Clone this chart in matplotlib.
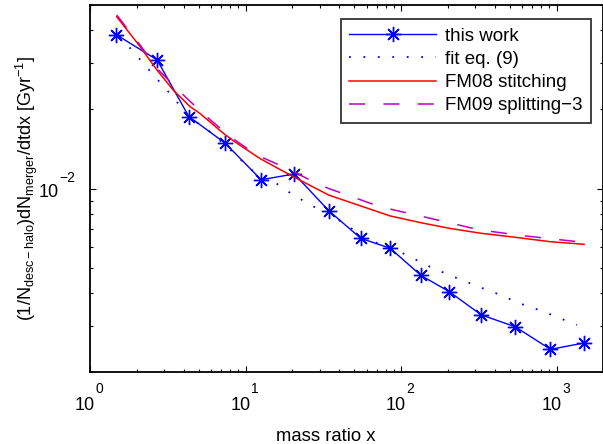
import matplotlib
matplotlib.use("Agg")
import matplotlib.pyplot as plt
import matplotlib.transforms as mtransforms
from matplotlib.ticker import LogLocator, NullFormatter
import numpy as np

plt.rcParams['font.family'] = ['Liberation Sans', 'DejaVu Sans']
plt.rcParams['mathtext.fontset'] = 'custom'
plt.rcParams['mathtext.rm'] = 'Liberation Sans'
plt.rcParams['mathtext.it'] = 'Liberation Sans:italic'
plt.rcParams['mathtext.bf'] = 'Liberation Sans:bold'

# ---- data ----
x_work = [1.48, 2.70, 4.32, 7.38, 12.6, 20.6, 34.3, 55.1, 85.2, 134, 205, 328, 542, 914, 1503]
y_work = [0.0385, 0.0309, 0.0188, 0.0149, 0.0108, 0.01136, 0.00823, 0.00646, 0.00592,
          0.00467, 0.00404, 0.0033, 0.002975, 0.00244, 0.00258]

x_fit = [1.56, 2.05, 2.55, 3.40, 4.3, 6.0, 8.0, 11.0, 14.7, 20, 28, 39.6, 62.3, 98.5,
         157, 222, 314, 408, 597, 823, 1349]
y_fit = [0.0379, 0.0315, 0.0271, 0.0224, 0.0188, 0.01633, 0.01402, 0.01174, 0.01077,
         0.00949, 0.00848, 0.00759, 0.00637, 0.00574, 0.0050, 0.00459, 0.00423, 0.00399,
         0.00363, 0.0034, 0.00302]

x_fm08 = [1.485, 2.10, 2.69, 3.43, 4.40, 5.10, 7.20, 8.35, 12.4, 20.3, 34.3, 55.1, 85.2,
          134, 205, 328, 542, 914, 1503]
y_fm08 = [0.0451, 0.0347, 0.0283, 0.0237, 0.0205, 0.0193, 0.01623, 0.0152, 0.0130,
          0.01109, 0.00944, 0.00858, 0.00786, 0.00741, 0.00705, 0.00675, 0.00652, 0.00627,
          0.00613]

x_fm09 = [1.485, 2.10, 2.69, 4.19, 5.63, 7.95, 11.8, 18.4, 30.1, 34.3, 73.3, 139, 322,
          612, 1480]
y_fm09 = [0.0458, 0.0352, 0.0287, 0.02206, 0.01877, 0.01575, 0.01342, 0.01194, 0.01031,
          0.0100, 0.00852, 0.00781, 0.00695, 0.00661, 0.00624]

labels = ['this work', 'fit eq. (9)', 'FM08 stitching', 'FM09 splitting\u22123']
x_major = [1, 10, 100, 1000]
y_major = [0.01]

fig = plt.figure(figsize=(6.03, 4.44), dpi=100)
W, H = 603, 444
ax_l, ax_r, ax_t, ax_b = 90, 603, 5, 372
ax = fig.add_axes([ax_l / W, (H - ax_b) / H, (ax_r - ax_l) / W, (ax_b - ax_t) / H])

ax.plot(x_work, y_work, color='#0000ff', lw=1.0, marker=(8, 2, 0), ms=11, mew=1.0,
        label=labels[0])
ax.plot(x_fit, y_fit, color='#0000ff', lw=1.3, ls=(0, (1, 7)), label=labels[1])
ax.plot(x_fm08, y_fm08, color='#ff0000', lw=1.1, label=labels[2])
ax.plot(x_fm09, y_fm09, color='#c000c0', lw=1.1, ls=(0, (10.5, 12)), label=labels[3])

ax.set_xscale('log')
ax.set_yscale('log')
ax.set_xlim(1, 1990)
ax.set_ylim(0.002, 0.05)

ax.xaxis.set_major_locator(LogLocator(base=10, numticks=10))
ax.xaxis.set_major_formatter(NullFormatter())
ax.xaxis.set_minor_locator(LogLocator(base=10, subs=np.arange(2, 10), numticks=20))
ax.xaxis.set_minor_formatter(NullFormatter())
ax.yaxis.set_major_locator(LogLocator(base=10, numticks=10))
ax.yaxis.set_major_formatter(NullFormatter())
ax.yaxis.set_minor_locator(LogLocator(base=10, subs=np.arange(2, 10), numticks=20))
ax.yaxis.set_minor_formatter(NullFormatter())

ax.tick_params(which='both', direction='in', top=True, right=True, width=0.8)
ax.tick_params(which='major', length=4.5)
ax.tick_params(which='minor', length=2.5)
for s in ax.spines.values():
    s.set_linewidth(1.3)

# MATLAB-style power-of-ten tick labels: "10" plus a raised exponent
px = 72.0 / fig.dpi  # points per pixel
xtr = mtransforms.blended_transform_factory(ax.transData, ax.transAxes)
for v in x_major:
    e = int(round(np.log10(v)))
    t1 = mtransforms.offset_copy(xtr, fig=fig, x=5 * px, y=-38 * px, units='points')
    ax.text(v, 0, '10', transform=t1, ha='right', va='baseline', fontsize=13)
    t2 = mtransforms.offset_copy(xtr, fig=fig, x=5.5 * px, y=-21 * px, units='points')
    ax.text(v, 0, '%d' % e, transform=t2, ha='left', va='baseline', fontsize=10)
ytr = mtransforms.blended_transform_factory(ax.transAxes, ax.transData)
for v in y_major:
    e = int(round(np.log10(v)))
    t1 = mtransforms.offset_copy(ytr, fig=fig, x=-31 * px, y=-8.5 * px, units='points')
    ax.text(0, v, '10', transform=t1, ha='right', va='baseline', fontsize=13)
    t2 = mtransforms.offset_copy(ytr, fig=fig, x=-30.5 * px, y=6.5 * px, units='points')
    ax.text(0, v, '\u2212%d' % (-e), transform=t2, ha='left', va='baseline', fontsize=10)

ax.set_xlabel('mass ratio x', fontsize=13.3)
ax.xaxis.set_label_coords((326 - ax_l) / (ax_r - ax_l), -(436 - ax_b) / (ax_b - ax_t))
ax.xaxis.label.set_va('center')
ax.set_ylabel(r'$\mathregular{(1/N_{desc-halo})dN_{merger}/dtdx\ [Gyr^{-1}]}$',
              fontsize=13)
ax.yaxis.set_label_coords(-(ax_l - 27) / (ax_r - ax_l), 0.5)
ax.yaxis.label.set_va('center')

leg = ax.legend(loc='upper right',
                bbox_to_anchor=((591 - ax_l) / (ax_r - ax_l), (ax_b - 19) / (ax_b - ax_t)),
                fontsize=13.5, frameon=True, fancybox=False, edgecolor='black',
                handlelength=4.6, handletextpad=0.5, labelspacing=0.33,
                borderpad=0.45, borderaxespad=0.0, markerscale=1.0)
leg.get_frame().set_linewidth(1.3)

fig.savefig('out.png', dpi=100)
